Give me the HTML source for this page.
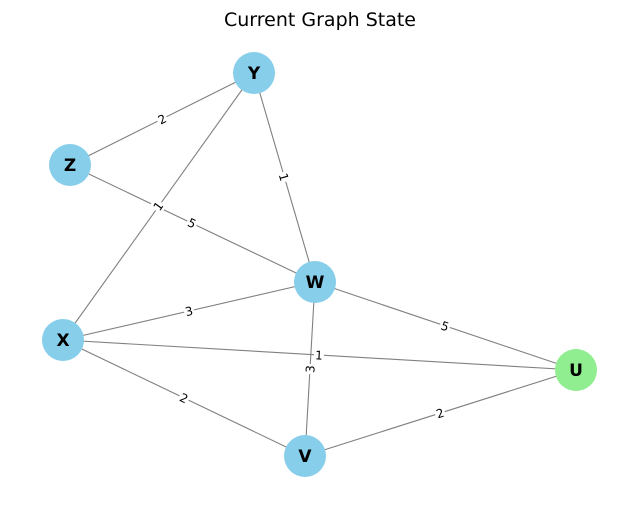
<!DOCTYPE html>
<html><head><meta charset="utf-8"><style>html,body{margin:0;padding:0;background:#fff;}svg{display:block}</style></head>
<body>
<svg width="640" height="506" viewBox="0 0 640 506" xmlns="http://www.w3.org/2000/svg" font-family="DejaVu Sans, Liberation Sans, sans-serif">
<rect width="640" height="506" fill="#fff"/>
<text x="320" y="26" text-anchor="middle" font-size="19" fill="#000">Current Graph State</text>
<g stroke="#808080" stroke-width="1.1">
<line x1="254" y1="73" x2="70" y2="165"/>
<line x1="254" y1="73" x2="63" y2="340"/>
<line x1="254" y1="73" x2="315" y2="282"/>
<line x1="70" y1="165" x2="315" y2="282"/>
<line x1="63" y1="340" x2="315" y2="282"/>
<line x1="63" y1="340" x2="576" y2="370"/>
<line x1="63" y1="340" x2="305" y2="456"/>
<line x1="315" y1="282" x2="576" y2="370"/>
<line x1="315" y1="282" x2="305" y2="456"/>
<line x1="305" y1="456" x2="576" y2="370"/>
</g>
<g font-size="12" text-anchor="middle" fill="#000">
<g transform="translate(162,119) rotate(-26.6)"><rect x="-5" y="-7" width="10" height="14" fill="#fff"/><text y="4.5">2</text></g>
<g transform="translate(158,206) rotate(-54.4)"><rect x="-5" y="-7" width="10" height="14" fill="#fff"/><text y="4.5">1</text></g>
<g transform="translate(284,177) rotate(73.7)"><rect x="-5" y="-7" width="10" height="14" fill="#fff"/><text y="4.5">1</text></g>
<g transform="translate(192,223) rotate(25.5)"><rect x="-5" y="-7" width="10" height="14" fill="#fff"/><text y="4.5">5</text></g>
<g transform="translate(189,311) rotate(-13)"><rect x="-5" y="-7" width="10" height="14" fill="#fff"/><text y="4.5">3</text></g>
<g transform="translate(319,355) rotate(3.3)"><rect x="-5" y="-7" width="10" height="14" fill="#fff"/><text y="4.5">1</text></g>
<g transform="translate(184,398) rotate(25.6)"><rect x="-5" y="-7" width="10" height="14" fill="#fff"/><text y="4.5">2</text></g>
<g transform="translate(445,326) rotate(18.6)"><rect x="-5" y="-7" width="10" height="14" fill="#fff"/><text y="4.5">5</text></g>
<g transform="translate(310,369) rotate(-86.7)"><rect x="-5" y="-7" width="10" height="14" fill="#fff"/><text y="4.5">3</text></g>
<g transform="translate(440,413) rotate(-17.6)"><rect x="-5" y="-7" width="10" height="14" fill="#fff"/><text y="4.5">2</text></g>
</g>
<g>
<circle cx="254" cy="73" r="21" fill="#87ceeb"/>
<circle cx="70" cy="165" r="21" fill="#87ceeb"/>
<circle cx="315" cy="282" r="21" fill="#87ceeb"/>
<circle cx="63" cy="340" r="21" fill="#87ceeb"/>
<circle cx="576" cy="370" r="21" fill="#90ee90"/>
<circle cx="305" cy="456" r="21" fill="#87ceeb"/>
</g>
<g font-size="17" font-weight="bold" text-anchor="middle" fill="#000">
<text x="254" y="79">Y</text>
<text x="70" y="171">Z</text>
<text x="315" y="288">W</text>
<text x="63" y="346">X</text>
<text x="576" y="376">U</text>
<text x="305" y="462">V</text>
</g>
</svg>
</body></html>
